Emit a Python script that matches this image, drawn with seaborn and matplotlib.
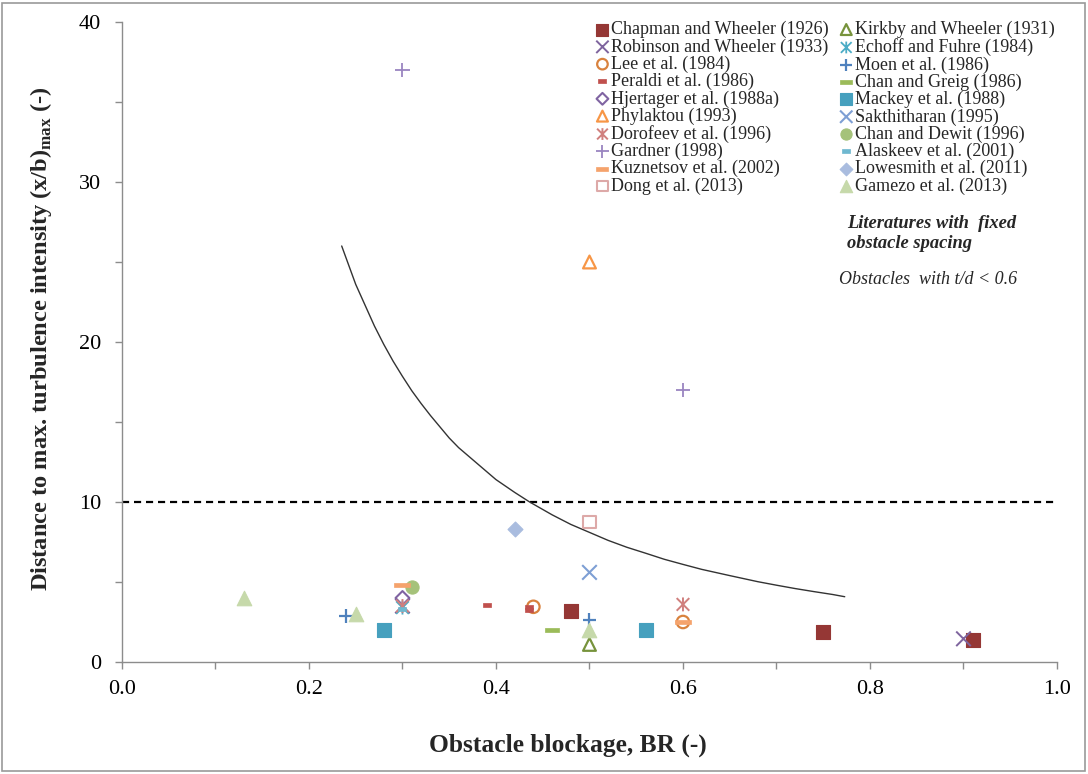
import matplotlib
matplotlib.use("Agg")
import matplotlib.pyplot as plt
from matplotlib.path import Path
from matplotlib.patches import Rectangle
from matplotlib.ticker import MultipleLocator, FormatStrFormatter
import seaborn as sns

sns.set_theme(style="white")
plt.rcParams["font.family"] = ["Liberation Serif", "DejaVu Serif"]
plt.rcParams["mathtext.fontset"] = "custom"
plt.rcParams["mathtext.rm"] = "Liberation Serif:bold"
plt.rcParams["mathtext.bf"] = "Liberation Serif:bold"

# ---- data: obstacle blockage ratio BR and distance to max. turbulence (x/b)max ----
chapman_x = [0.48, 0.75, 0.91]
chapman_y = [3.2, 1.85, 1.4]
kirkby_x = [0.5]
kirkby_y = [1.1]
robinson_x = [0.3, 0.9]
robinson_y = [3.5, 1.45]
echoff_x = [0.3]
echoff_y = [3.4]
lee_x = [0.44, 0.6]
lee_y = [3.45, 2.5]
moen_x = [0.24, 0.5]
moen_y = [2.9, 2.6]
peraldi_x = [0.39, 0.435, 0.435]
peraldi_y = [3.55, 3.45, 3.27]
chan_greig_x = [0.46]
chan_greig_y = [2.0]
hjertager_x = [0.3]
hjertager_y = [4.0]
mackey_x = [0.28, 0.56]
mackey_y = [2.0, 2.0]
phylaktou_x = [0.5]
phylaktou_y = [25.0]
sakthitharan_x = [0.5]
sakthitharan_y = [5.6]
dorofeev_x = [0.3, 0.6]
dorofeev_y = [3.5, 3.6]
chan_dewit_x = [0.31]
chan_dewit_y = [4.7]
gardner_x = [0.3, 0.6]
gardner_y = [37.0, 17.0]
alaskeev_x = [0.3]
alaskeev_y = [3.3]
kuznetsov_x = [0.3, 0.6]
kuznetsov_y = [4.8, 2.5]
lowesmith_x = [0.42]
lowesmith_y = [8.3]
dong_x = [0.5]
dong_y = [8.75]
gamezo_x = [0.13, 0.25, 0.5]
gamezo_y = [4.0, 3.0, 2.0]

# boundary curve and the (x/b)max = 10 reference level
curve_x = [0.235, 0.24, 0.245, 0.25, 0.26, 0.27, 0.28, 0.29, 0.30, 0.31,
           0.32, 0.33, 0.34, 0.35, 0.36, 0.38, 0.40, 0.42, 0.436, 0.46,
           0.48, 0.50, 0.52, 0.54, 0.56, 0.58, 0.60, 0.62, 0.65, 0.68,
           0.70, 0.72, 0.74, 0.76, 0.773]
curve_y = [26.0, 25.2, 24.4, 23.6, 22.3, 21.0, 19.85, 18.8, 17.85, 16.95,
           16.15, 15.4, 14.7, 14.0, 13.4, 12.4, 11.4, 10.6, 10.0, 9.2,
           8.6, 8.1, 7.6, 7.17, 6.8, 6.42, 6.1, 5.79, 5.4, 5.02,
           4.8, 4.59, 4.4, 4.22, 4.08]
ref_level = 10

# ---- marker shapes ----
asterisk = Path([(-0.5, -0.5), (0.5, 0.5), (-0.5, 0.5), (0.5, -0.5), (0, -0.55), (0, 0.55)],
                [Path.MOVETO, Path.LINETO, Path.MOVETO, Path.LINETO, Path.MOVETO, Path.LINETO])
plus = Path([(-0.5, 0), (0.5, 0), (0, -0.5), (0, 0.5)],
            [Path.MOVETO, Path.LINETO, Path.MOVETO, Path.LINETO])
cross = Path([(-0.5, -0.5), (0.5, 0.5), (-0.5, 0.5), (0.5, -0.5)],
             [Path.MOVETO, Path.LINETO, Path.MOVETO, Path.LINETO])


def dash(h):
    return Path([(-0.5, -h), (0.5, -h), (0.5, h), (-0.5, h), (-0.5, -h)],
                [Path.MOVETO, Path.LINETO, Path.LINETO, Path.LINETO, Path.CLOSEPOLY])


long_dash = dash(0.14)
short_dash = dash(0.22)

# label, x, y, marker, colour, size, filled, edge width
series = [
    ("Chapman and Wheeler (1926)", chapman_x, chapman_y, "s", "#953735", 100, True, 0.8),
    ("Kirkby and Wheeler (1931)", kirkby_x, kirkby_y, "^", "#77933C", 85, False, 1.6),
    ("Robinson and Wheeler (1933)", robinson_x, robinson_y, cross, "#7E649E", 110, False, 1.4),
    ("Echoff and Fuhre (1984)", echoff_x, echoff_y, asterisk, "#4BACC6", 100, False, 1.3),
    ("Lee et al. (1984)", lee_x, lee_y, "o", "#D9823E", 80, False, 1.6),
    ("Moen et al. (1986)", moen_x, moen_y, plus, "#4F81BD", 100, False, 1.6),
    ("Peraldi et al. (1986)", peraldi_x, peraldi_y, short_dash, "#C0504D", 40, True, 0.5),
    ("Chan and Greig (1986)", chan_greig_x, chan_greig_y, long_dash, "#9BBB59", 115, True, 0.5),
    ("Hjertager et al. (1988a)", hjertager_x, hjertager_y, "D", "#8064A2", 50, False, 1.5),
    ("Mackey et al. (1988)", mackey_x, mackey_y, "s", "#46A0BE", 100, True, 0.8),
    ("Phylaktou (1993)", phylaktou_x, phylaktou_y, "^", "#F79646", 85, False, 1.6),
    ("Sakthitharan (1995)", sakthitharan_x, sakthitharan_y, cross, "#7E9FD4", 110, False, 1.5),
    ("Dorofeev et al. (1996)", dorofeev_x, dorofeev_y, asterisk, "#D0807E", 100, False, 1.4),
    ("Chan and Dewit (1996)", chan_dewit_x, chan_dewit_y, "o", "#A5C27A", 90, True, 0.8),
    ("Gardner (1998)", gardner_x, gardner_y, plus, "#9A85C0", 110, False, 1.3),
    ("Alaskeev et al. (2001)", alaskeev_x, alaskeev_y, short_dash, "#6FB8D0", 40, True, 0.5),
    ("Kuznetsov et al. (2002)", kuznetsov_x, kuznetsov_y, long_dash, "#F5A36C", 120, True, 0.5),
    ("Lowesmith et al. (2011)", lowesmith_x, lowesmith_y, "D", "#A9BCDF", 58, True, 0.8),
    ("Dong et al. (2013)", dong_x, dong_y, "s", "#DDA9A8", 85, False, 1.5),
    ("Gamezo et al. (2013)", gamezo_x, gamezo_y, "^", "#C6D9AA", 110, True, 0.8),
]

fig = plt.figure(figsize=(10.88, 7.74), dpi=100)
ax = fig.add_axes([0.1121, 0.1447, 0.8594, 0.8269])

ax.axhline(ref_level, color="black", lw=1.6, ls=(0, (3.2, 2.2)), zorder=1)
sns.lineplot(x=curve_x, y=curve_y, ax=ax, color="#333333", lw=1.0, sort=False,
             estimator=None, zorder=1, solid_joinstyle="round")

handles = []
for label, xs, ys, mk, col, size, filled, lw in series:
    sns.scatterplot(x=xs, y=ys, ax=ax, marker=mk, s=size, color=col,
                    facecolor=col if filled else "none", edgecolor=col,
                    linewidth=lw, label=label, zorder=3, legend=False)
    handles.append(ax.collections[-1])

ax.set_xlim(0, 1.0)
ax.set_ylim(0, 40)
ax.xaxis.set_major_locator(MultipleLocator(0.2))
ax.xaxis.set_minor_locator(MultipleLocator(0.1))
ax.yaxis.set_major_locator(MultipleLocator(10))
ax.yaxis.set_minor_locator(MultipleLocator(5))
ax.xaxis.set_major_formatter(FormatStrFormatter("%.1f"))

for side in ("top", "right"):
    ax.spines[side].set_visible(False)
for side in ("left", "bottom"):
    ax.spines[side].set_color("#8C8C8C")
    ax.spines[side].set_linewidth(1.0)
ax.tick_params(which="both", direction="out", length=5, width=1, color="#8C8C8C",
               left=True, bottom=True)
ax.tick_params(axis="x", labelsize=16, pad=8, labelcolor="black")
ax.tick_params(axis="y", labelsize=16, pad=10, labelcolor="black")

ax.set_xlabel("Obstacle blockage, BR (-)", fontsize=18.4, fontweight="bold")
ax.xaxis.set_label_coords(0.477, -0.112)
ax.set_ylabel(r"Distance to max. turbulence intensity (x/b)$_{\mathregular{max}}$ (-)",
              fontsize=17.6, fontweight="bold")
ax.yaxis.set_label_coords(-0.073, 0.505)

# legend laid out in two columns, rows read left to right
order = list(range(0, 20, 2)) + list(range(1, 20, 2))
leg = ax.legend([handles[i] for i in order], [series[i][0] for i in order],
                ncol=2, loc="upper left", bbox_to_anchor=(588 / 1088, 1 - 12 / 774),
                bbox_transform=fig.transFigure, frameon=False, fontsize=13,
                labelspacing=0.0, handlelength=0.6, handletextpad=0.2,
                columnspacing=0.65, borderpad=0, markerscale=0.85, scatterpoints=1)

fig.text(847 / 1088, 1 - 223 / 774, "Literatures with  fixed", fontsize=13.3,
         fontweight="bold", style="italic", va="center", ha="left")
fig.text(847 / 1088, 1 - 243 / 774, "obstacle spacing", fontsize=13.3,
         fontweight="bold", style="italic", va="center", ha="left")
fig.text(839 / 1088, 1 - 280 / 774, "Obstacles  with t/d < 0.6", fontsize=13,
         style="italic", va="center", ha="left")

fig.add_artist(Rectangle((2 / 1088, 3 / 774), 1083 / 1088, 768 / 774, transform=fig.transFigure,
                         fill=False, ec="#9A9A9A", lw=1.2))

fig.savefig("out.png", dpi=100)
